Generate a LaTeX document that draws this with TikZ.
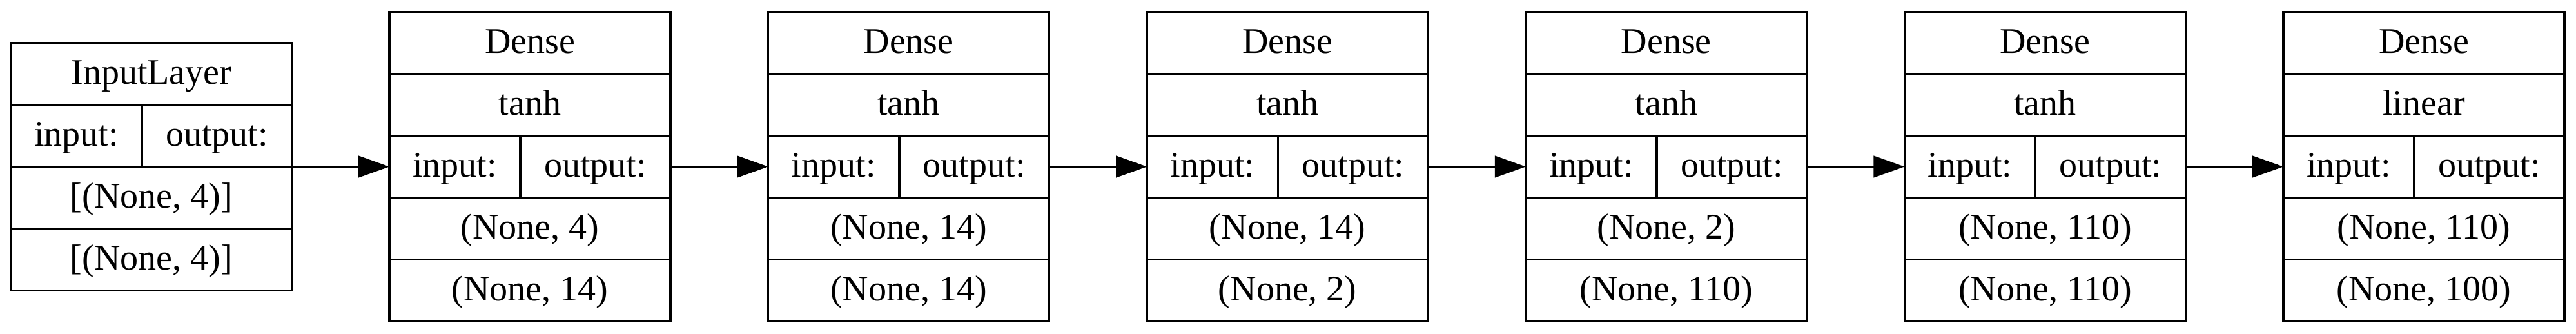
\documentclass[tikz,border=0pt]{standalone}
\usepackage{fontspec}
\setmainfont{Liberation Serif}
\usetikzlibrary{arrows.meta,positioning}

\begin{document}
\begin{tikzpicture}[x=1pt,y=1pt,>={Triangle[length=12pt,width=8.3pt]},line width=0.9pt,
		cell/.style={draw, minimum width=109pt, minimum height=24pt, inner sep=0pt, outer sep=0pt, text height=10pt, text depth=2pt, font=\fontsize{14}{16}\selectfont},
		incell/.style={cell, minimum width=50.8pt},
		outcell/.style={cell, minimum width=58.2pt}]
				\useasboundingbox (0,0) rectangle (999,129.25);

				% input layer
				\node[cell]    (i0n) at (58.7,100.625)            {InputLayer};
				\node[incell]  (i0i) [below right=0pt of i0n.south west] {input:};
				\node[outcell] (i0o) [right=0pt of i0i]          {output:};
				\node[cell]    (i0x) [below right=0pt of i0i.south west] {[(None, 4)]};
				\node[cell]    (i0y) [below=0pt of i0x]          {[(None, 4)]};

				% dense layers
				\node[cell]    (d1n) at (205.5,112.625)           {Dense};
				\node[cell]    (d1f) [below=0pt of d1n]          {tanh};
				\node[incell]  (d1i) [below right=0pt of d1f.south west] {input:};
				\node[outcell] (d1o) [right=0pt of d1i]          {output:};
				\node[cell]    (d1x) [below right=0pt of d1i.south west] {(None, 4)};
				\node[cell]    (d1y) [below=0pt of d1x]          {(None, 14)};

				\node[cell]    (d2n) at (352.4,112.625)           {Dense};
				\node[cell]    (d2f) [below=0pt of d2n]          {tanh};
				\node[incell]  (d2i) [below right=0pt of d2f.south west] {input:};
				\node[outcell] (d2o) [right=0pt of d2i]          {output:};
				\node[cell]    (d2x) [below right=0pt of d2i.south west] {(None, 14)};
				\node[cell]    (d2y) [below=0pt of d2x]          {(None, 14)};

				\node[cell]    (d3n) at (499.3,112.625)           {Dense};
				\node[cell]    (d3f) [below=0pt of d3n]          {tanh};
				\node[incell]  (d3i) [below right=0pt of d3f.south west] {input:};
				\node[outcell] (d3o) [right=0pt of d3i]          {output:};
				\node[cell]    (d3x) [below right=0pt of d3i.south west] {(None, 14)};
				\node[cell]    (d3y) [below=0pt of d3x]          {(None, 2)};

				\node[cell]    (d4n) at (646.2,112.625)           {Dense};
				\node[cell]    (d4f) [below=0pt of d4n]          {tanh};
				\node[incell]  (d4i) [below right=0pt of d4f.south west] {input:};
				\node[outcell] (d4o) [right=0pt of d4i]          {output:};
				\node[cell]    (d4x) [below right=0pt of d4i.south west] {(None, 2)};
				\node[cell]    (d4y) [below=0pt of d4x]          {(None, 110)};

				\node[cell]    (d5n) at (793.1,112.625)           {Dense};
				\node[cell]    (d5f) [below=0pt of d5n]          {tanh};
				\node[incell]  (d5i) [below right=0pt of d5f.south west] {input:};
				\node[outcell] (d5o) [right=0pt of d5i]          {output:};
				\node[cell]    (d5x) [below right=0pt of d5i.south west] {(None, 110)};
				\node[cell]    (d5y) [below=0pt of d5x]          {(None, 110)};

				\node[cell]    (d6n) at (940.0,112.625)           {Dense};
				\node[cell]    (d6f) [below=0pt of d6n]          {linear};
				\node[incell]  (d6i) [below right=0pt of d6f.south west] {input:};
				\node[outcell] (d6o) [right=0pt of d6i]          {output:};
				\node[cell]    (d6x) [below right=0pt of d6i.south west] {(None, 110)};
				\node[cell]    (d6y) [below=0pt of d6x]          {(None, 100)};

				\path[->] (i0o.south east) edge (d1i)
						  (d1o) edge (d2i)
						  (d2o) edge (d3i)
						  (d3o) edge (d4i)
						  (d4o) edge (d5i)
						  (d5o) edge (d6i);

			\end{tikzpicture}
\end{document}
